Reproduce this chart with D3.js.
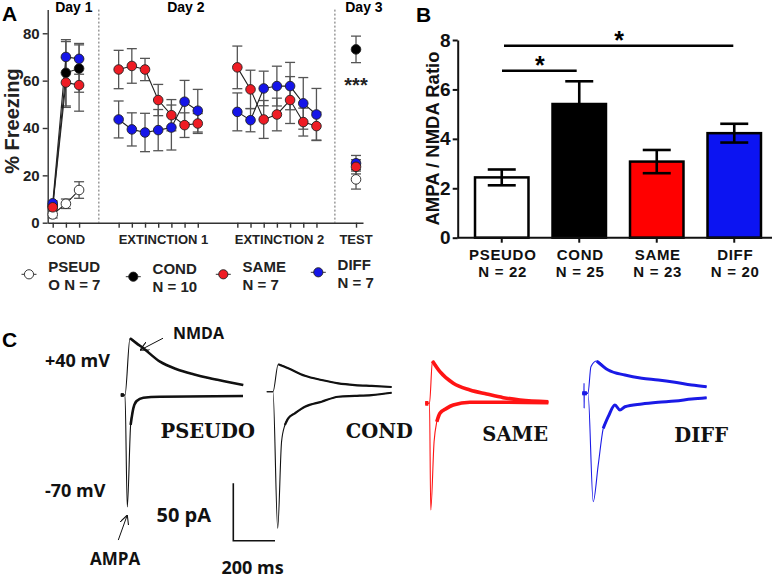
<!DOCTYPE html>
<html>
<head>
<meta charset="utf-8">
<script src="https://cdn.jsdelivr.net/npm/d3@7"></script>
<style>
  body { margin: 0; background: #fff; }
  svg { display: block; font-family: "Liberation Sans", Arial, sans-serif; }
</style>
</head>
<body>
<svg id="fig" width="775" height="577"></svg>
<script>
const svg = d3.select('#fig');

// ---------- Panel A data (trial index on a shared x, % freezing) ----------
const condIdx = [0, 1, 2];
const ext1Idx = [5, 6, 7, 8, 9, 10, 11];
const ext2Idx = [14, 15, 16, 17, 18, 19, 20];
const testIdx = [23];

const pseudoCond = [3.5, 8, 13.8];
const pseudoCondErr = [1.5, 2, 3.5];
const pseudoTest = [18.3];
const pseudoTestErr = [4.1];

const condCond = [7, 63.3, 65.1];
const condCondErr = [1, 14, 10];
const condTest = [73.2];
const condTestErr = [5.6];

const sameCond = [6.5, 59.2, 58.1];
const sameCondErr = [1, 10.5, 11];
const sameExt1 = [64.7, 66.2, 64.7, 51.8, 45.4, 41.2, 41.9];
const sameExt1Err = [8.1, 7.3, 4.7, 6.6, 6.6, 5.2, 4.2];
const sameExt2 = [65.6, 56.3, 43.6, 45.7, 51.8, 42.5, 40.8];
const sameExt2Err = [9, 8.1, 8, 6.9, 9.9, 5.9, 5.9];
const sameTest = [23.6];
const sameTestErr = [3];

const diffCond = [8.2, 70, 69.2];
const diffCondErr = [1, 6.5, 6.5];
const diffExt1 = [43.6, 39.4, 38.1, 39.1, 40.2, 51.1, 47.3];
const diffExt1Err = [7.8, 7, 8.1, 8.7, 9.5, 9, 9];
const diffExt2 = [46.8, 43.3, 56.7, 57.7, 57.7, 50.4, 45.7];
const diffExt2Err = [8, 4.9, 7.3, 8.4, 10, 10.9, 11];
const diffTest = [25.1];
const diffTestErr = [3.3];

const phaseLabels = ['COND', 'EXTINCTION 1', 'EXTINCTION 2', 'TEST'];
const phaseLabelAt = [1, 8.4, 17.2, 23];
const dayLabels = ['Day 1', 'Day 2', 'Day 3'];
const dayLabelAt = [1.6, 10.1, 23.6];
const daySeparators = [3.5, 21.4];
const legendNames = [['PSEUD', 'O N = 7'], ['COND', 'N = 10'], ['SAME', 'N = 7'], ['DIFF', 'N = 7']];

// ---------- Panel B data ----------
const groupsB = ['PSEUDO', 'COND', 'SAME', 'DIFF'];
const nB = ['N = 22', 'N = 25', 'N = 23', 'N = 20'];
const ratioB = [2.44, 5.41, 3.08, 4.23];
const semB = [0.32, 0.92, 0.47, 0.38];

// ---------- Panel C data: traces [ms, pA] ----------
const pseudoUp = [[-20, 0], [0, 0], [24, 49.4], [56, 45], [88, 40.7], [168, 29], [248, 22.4], [328, 18], [408, 14.5], [488, 11.6], [567, 8.7]];
const pseudoDown = [[-20, 0], [0, 0], [11, -97.6], [27, -26], [40, -11.6], [56, -5.2], [88, -2.4], [168, -1.5], [566, -0.9]];
const condUp = [[-30, 0], [0, 0], [25, 23.9], [73, 20.4], [153, 13.9], [233, 10.2], [313, 7.3], [393, 5.8], [473, 5.0], [569, 4.1]];
const condDown = [[-30, 0], [0, 0], [22.5, -119], [41, -43.6], [57, -29], [73, -23.2], [105, -18.8], [153, -13.1], [233, -8.7], [313, -4.4], [393, -3.7], [473, -2.9], [569, -0.9]];
const sameUp = [[-20, 0], [0, 0], [14, 36.8], [50, 27.5], [114, 17.4], [194, 11.6], [274, 8.1], [354, 4.9], [434, 2.9], [570, 1.4]];
const sameDown = [[-20, 0], [0, 0], [6, -93], [22, -33.4], [35, -16], [50, -8.7], [82, -4.4], [114, -1.5], [194, 0.9], [354, 0.9], [570, 0.5]];
const diffUp = [[-27, 0], [-19.5, 0], [-19, 8.7], [-18.5, -13], [-18, 0], [0, 0], [14, 23.2], [42, 28.1], [97, 20.3], [177, 15.9], [258, 13.1], [337, 11.6], [417, 9.6], [497, 7.2], [569, 5.7]];
const diffDown = [[-27, 0], [0, 0], [25, -94.4], [49, -62.5], [73, -30.5], [97, -20.4], [129, -10.2], [153, -14.5], [177, -11.7], [258, -9.3], [337, -7.8], [417, -6.7], [497, -5], [569, -3.8]];
const traceNames = ['PSEUDO', 'COND', 'SAME', 'DIFF'];

const RED = '#ee1c24';
const BLUE = '#1515e8';

// ============ PANEL A ============
const xA = d3.scaleLinear().domain([-0.38, 23.53]).range([47.7, 363]);
const yA = d3.scaleLinear().domain([0, 90]).range([222.7, 9.6]);
const gA = svg.append('g');

gA.append('text').attr('x', 2).attr('y', 21).attr('font-size', 21).attr('font-weight', 'bold').text('A');

// day separators
gA.selectAll('line.sep').data(daySeparators).enter().append('line')
  .attr('x1', (d) => xA(d)).attr('x2', (d) => xA(d))
  .attr('y1', yA(90)).attr('y2', yA(0))
  .attr('stroke', '#666').attr('stroke-width', 1).attr('stroke-dasharray', '2,2');

gA.selectAll('text.day').data(dayLabels).enter().append('text')
  .attr('x', (d, i) => xA(dayLabelAt[i])).attr('y', 12)
  .attr('text-anchor', 'middle').attr('font-size', 14).attr('font-weight', 'bold')
  .text((d) => d);

const axA = gA.append('g').attr('transform', `translate(${xA.range()[0]},0)`)
  .call(d3.axisLeft(yA).tickValues([0, 20, 40, 60, 80]).tickSize(5).tickSizeOuter(0).tickPadding(3));
axA.selectAll('text').attr('font-size', 15).attr('font-weight', 'bold').attr('fill', '#222').attr('font-family', null);
axA.selectAll('path,line').attr('stroke', '#333').attr('stroke-width', 1.4);

const axAx = gA.append('g').attr('transform', `translate(0,${yA(0)})`)
  .call(d3.axisBottom(xA).tickValues([...condIdx, ...ext1Idx, ...ext2Idx, ...testIdx])
    .tickFormat('').tickSize(5).tickSizeOuter(0));
axAx.selectAll('path,line').attr('stroke', '#333').attr('stroke-width', 1.4);

gA.selectAll('text.phase').data(phaseLabels).enter().append('text')
  .attr('x', (d, i) => xA(phaseLabelAt[i])).attr('y', 243.5)
  .attr('text-anchor', 'middle').attr('font-size', 13).attr('font-weight', 'bold').attr('fill', '#222')
  .text((d) => d);

gA.append('text').attr('transform', `translate(19,121) rotate(-90)`)
  .attr('text-anchor', 'middle').attr('font-size', 20).attr('font-weight', 'bold').attr('fill', '#222')
  .text('% Freezing');

const groupsA = [
  { fill: '#ffffff', segs: [[condIdx, pseudoCond, pseudoCondErr], [testIdx, pseudoTest, pseudoTestErr]] },
  { fill: '#000000', segs: [[condIdx, condCond, condCondErr], [testIdx, condTest, condTestErr]] },
  { fill: BLUE, segs: [[condIdx, diffCond, diffCondErr], [ext1Idx, diffExt1, diffExt1Err], [ext2Idx, diffExt2, diffExt2Err], [testIdx, diffTest, diffTestErr]] },
  { fill: RED, segs: [[condIdx, sameCond, sameCondErr], [ext1Idx, sameExt1, sameExt1Err], [ext2Idx, sameExt2, sameExt2Err], [testIdx, sameTest, sameTestErr]] },
];
const ptsOf = (seg) => seg[0].map((ix, k) => ({ i: ix, v: seg[1][k], e: seg[2][k] }));

// error bars
const gErr = gA.append('g').attr('stroke', '#555').attr('stroke-width', 1.3);
groupsA.forEach((g) => g.segs.forEach((seg) => {
  ptsOf(seg).forEach((p) => {
    gErr.append('line').attr('x1', xA(p.i)).attr('x2', xA(p.i)).attr('y1', yA(p.v - p.e)).attr('y2', yA(p.v + p.e));
    [p.v - p.e, p.v + p.e].forEach((v) => {
      gErr.append('line').attr('x1', xA(p.i) - 5).attr('x2', xA(p.i) + 5).attr('y1', yA(v)).attr('y2', yA(v));
    });
  });
}));

// connecting lines
const lineA = d3.line().x((p) => xA(p.i)).y((p) => yA(p.v));
groupsA.forEach((g) => g.segs.forEach((seg) => {
  if (seg[0].length < 2) return;
  gA.append('path').attr('d', lineA(ptsOf(seg))).attr('fill', 'none').attr('stroke', '#222').attr('stroke-width', 1.1);
}));

// markers
groupsA.forEach((g) => g.segs.forEach((seg) => {
  gA.selectAll(null).data(ptsOf(seg)).enter().append('circle')
    .attr('cx', (p) => xA(p.i)).attr('cy', (p) => yA(p.v)).attr('r', 4.8)
    .attr('fill', g.fill).attr('stroke', '#222').attr('stroke-width', 0.9);
}));

gA.append('text').attr('x', xA(23)).attr('y', 91.5).attr('text-anchor', 'middle')
  .attr('font-size', 20).attr('font-weight', 'bold').attr('fill', '#222').text('***');

// legend
const legendX = [29, 133.3, 223.3, 318.3];
const legendY = [274.3, 276.7, 274.3, 272.3];
const legendFill = ['#ffffff', '#000000', RED, BLUE];
legendNames.forEach((nm, k) => {
  const lg = gA.append('g');
  lg.append('line').attr('x1', legendX[k] - 7.5).attr('x2', legendX[k] + 7.5)
    .attr('y1', legendY[k]).attr('y2', legendY[k]).attr('stroke', '#333').attr('stroke-width', 1);
  lg.append('circle').attr('cx', legendX[k]).attr('cy', legendY[k]).attr('r', 4.6)
    .attr('fill', legendFill[k]).attr('stroke', '#222').attr('stroke-width', 0.9);
  lg.append('text').attr('x', legendX[k] + 19.3).attr('y', legendY[k] - 2.3)
    .attr('font-size', 15).attr('font-weight', 'bold').attr('fill', '#222').text(nm[0]);
  lg.append('text').attr('x', legendX[k] + 19.3).attr('y', legendY[k] + 15.5)
    .attr('font-size', 15).attr('font-weight', 'bold').attr('fill', '#222').text(nm[1]);
});

// ============ PANEL B ============
const xB = d3.scaleBand().domain(groupsB).range([463, 773]).paddingInner(0.31).paddingOuter(0.155);
const yB = d3.scaleLinear().domain([0, 8]).range([237.7, 40]);
const gB = svg.append('g');
const fillB = ['#ffffff', '#000000', '#ff0000', '#0c14f2'];

gB.append('text').attr('x', 416).attr('y', 22).attr('font-size', 21).attr('font-weight', 'bold').text('B');

gB.selectAll('rect.bar').data(groupsB).enter().append('rect')
  .attr('x', (d) => xB(d)).attr('width', xB.bandwidth())
  .attr('y', (d, i) => yB(ratioB[i])).attr('height', (d, i) => yB(0) - yB(ratioB[i]))
  .attr('fill', (d, i) => fillB[i]).attr('stroke', '#000').attr('stroke-width', 2.5);

const gEB = gB.append('g').attr('stroke', '#000').attr('stroke-width', 2.6);
groupsB.forEach((d, i) => {
  const cx = xB(d) + xB.bandwidth() / 2;
  gEB.append('line').attr('x1', cx).attr('x2', cx).attr('y1', yB(ratioB[i] - semB[i])).attr('y2', yB(ratioB[i] + semB[i]));
  [ratioB[i] - semB[i], ratioB[i] + semB[i]].forEach((v) => {
    gEB.append('line').attr('x1', cx - 14).attr('x2', cx + 14).attr('y1', yB(v)).attr('y2', yB(v));
  });
});

const axB = gB.append('g').attr('transform', `translate(457.7,0)`)
  .call(d3.axisLeft(yB).tickValues([0, 2, 4, 6, 8]).tickSize(5).tickSizeOuter(0).tickPadding(2));
axB.selectAll('text').attr('font-size', 19).attr('font-weight', 'bold').attr('fill', '#111').attr('font-family', null);
axB.selectAll('path,line').attr('stroke', '#111').attr('stroke-width', 2);

const axBx = gB.append('g').attr('transform', `translate(0,${yB(0)})`)
  .call(d3.axisBottom(xB).tickSize(5).tickSizeOuter(0).tickFormat(''));
axBx.select('path').attr('d', `M457.7,0H772`);
axBx.selectAll('path,line').attr('stroke', '#111').attr('stroke-width', 2);

gB.selectAll('text.grp').data(groupsB).enter().append('text')
  .attr('x', (d) => xB(d) + xB.bandwidth() / 2 + 1).attr('y', 259.5)
  .attr('text-anchor', 'middle').attr('font-size', 15).attr('letter-spacing', 0.7)
  .attr('font-weight', 'bold').attr('fill', '#111')
  .text((d) => d);
gB.selectAll('text.nn').data(nB).enter().append('text')
  .attr('x', (d, i) => xB(groupsB[i]) + xB.bandwidth() / 2 + 1).attr('y', 276.8)
  .attr('text-anchor', 'middle').attr('font-size', 15).attr('letter-spacing', 0.7)
  .attr('font-weight', 'bold').attr('fill', '#111')
  .text((d) => d);

gB.append('text').attr('transform', `translate(439,138.5) rotate(-90)`)
  .attr('text-anchor', 'middle').attr('font-size', 18.5).attr('font-weight', 'bold').attr('fill', '#111')
  .text('AMPA / NMDA Ratio');

// significance brackets
const sig = [
  { a: 'PSEUDO', b: 'DIFF', y: 45.7, x0: 504, x1: 733.3 },
  { a: 'PSEUDO', b: 'COND', y: 70.7, x0: 502, x1: 576.7 },
];
sig.forEach((s) => {
  gB.append('line').attr('x1', s.x0).attr('x2', s.x1).attr('y1', s.y).attr('y2', s.y)
    .attr('stroke', '#000').attr('stroke-width', 2.5);
  gB.append('text').attr('x', (s.x0 + s.x1) / 2 + 0.5).attr('y', s.y + 3.5)
    .attr('text-anchor', 'middle').attr('font-size', 25).attr('font-weight', 'bold').text('*');
});

// ============ PANEL C ============
const gC = svg.append('g');
gC.append('text').attr('x', 2).attr('y', 347).attr('font-size', 21).attr('font-weight', 'bold').text('C');

const tC = d3.scaleLinear().domain([0, 200]).range([0, 41.7]);
const iC = d3.scaleLinear().domain([0, 50]).range([0, -57.4]);
const lineC = d3.line().x((d) => tC(d[0])).y((d) => iC(d[1])).curve(d3.curveMonotoneX);

const traceSets = [
  { up: pseudoUp, down: pseudoDown, ox: 125, oy: 395, color: '#111', noise: 2.6, label: [255, 438.3] },
  { up: condUp, down: condDown, ox: 273, oy: 391.7, color: '#111', noise: 2.2, label: [413, 438.3] },
  { up: sameUp, down: sameDown, ox: 429.5, oy: 403.3, color: '#ff1414', noise: 3.6, label: [548, 440.7] },
  { up: diffUp, down: diffDown, ox: 588, oy: 393.3, color: '#1a1ae6', noise: 3.0, label: [728, 441.7] },
];

traceSets.forEach((ts, k) => {
  const g = gC.append('g').attr('transform', `translate(${ts.ox},${ts.oy})`);
  [ts.up, ts.down].forEach((tr, j) => {
    g.append('path').attr('d', lineC(tr)).attr('fill', 'none').attr('stroke', ts.color).attr('stroke-width', 1.1);
    // noisy (thick) parts: pre-stimulus baseline and the slow decay
    const ext = j === 0 ? d3.maxIndex(tr, (d) => d[1]) : d3.minIndex(tr, (d) => d[1]);
    const slow = tr.filter((d, n) => n > ext && (j === 0 || d[1] > -32));
    const base = tr.filter((d) => d[0] <= 0 && d[0] >= -25 + (k === 3 ? -2 : 0));
    g.append('path').attr('d', lineC(j === 0 ? tr.slice(ext) : slow)).attr('fill', 'none')
      .attr('stroke', ts.color).attr('stroke-width', ts.noise).attr('stroke-linejoin', 'round');
    g.append('path').attr('d', lineC(base.filter((d) => d[1] === 0 && d[0] < -15).concat([[-6, 0]])))
      .attr('fill', 'none').attr('stroke', ts.color).attr('stroke-width', ts.noise + 0.8);
  });
  gC.append('text').attr('x', ts.label[0]).attr('y', ts.label[1]).attr('text-anchor', 'end')
    .attr('font-family', '"DejaVu Serif", serif').attr('font-weight', 'bold').attr('font-size', 19.5)
    .attr('fill', '#111').text(traceNames[k]);
});

const sans = '"Open Sans", sans-serif';
gC.append('text').attr('x', 45).attr('y', 367).attr('font-family', sans).attr('font-weight', 'bold').attr('font-size', 18).attr('fill', '#111').text('+40 mV');
gC.append('text').attr('x', 45).attr('y', 497).attr('font-family', sans).attr('font-weight', 'bold').attr('font-size', 18).attr('fill', '#111').text('-70 mV');
gC.append('text').attr('x', 173).attr('y', 338.5).attr('font-family', sans).attr('font-weight', 'bold').attr('font-size', 16).attr('fill', '#111').text('NMDA');
gC.append('text').attr('x', 90).attr('y', 565).attr('font-family', sans).attr('font-weight', 'bold').attr('font-size', 17).attr('fill', '#111').text('AMPA');

// annotation arrows, anchored on the PSEUDO traces
svg.append('defs').append('marker').attr('id', 'arr').attr('viewBox', '0 0 10 10')
  .attr('refX', 10).attr('refY', 5).attr('markerWidth', 9).attr('markerHeight', 9)
  .attr('markerUnits', 'userSpaceOnUse').attr('orient', 'auto')
  .append('path').attr('d', 'M0,0 L10,5 L0,10').attr('fill', 'none').attr('stroke', '#111').attr('stroke-width', 1.2);
const ps = traceSets[0];
const nmdaTip = [ps.ox + tC(72), ps.oy + iC(39)];
const trough = pseudoDown[d3.minIndex(pseudoDown, (d) => d[1])];
const ampaTip = [ps.ox + tC(trough[0]), ps.oy + iC(trough[1]) + 8];
gC.append('line').attr('x1', nmdaTip[0] + 23).attr('y1', nmdaTip[1] - 12).attr('x2', nmdaTip[0]).attr('y2', nmdaTip[1])
  .attr('stroke', '#111').attr('stroke-width', 1).attr('marker-end', 'url(#arr)');
gC.append('line').attr('x1', ampaTip[0] - 9).attr('y1', ampaTip[1] + 25).attr('x2', ampaTip[0]).attr('y2', ampaTip[1])
  .attr('stroke', '#111').attr('stroke-width', 1).attr('marker-end', 'url(#arr)');

// scale bar: 50 pA / 200 ms
const sb = gC.append('g').attr('transform', 'translate(233.3,540.7)');
sb.append('path').attr('d', `M0,${iC(50)}V0H${tC(200)}`).attr('fill', 'none').attr('stroke', '#111').attr('stroke-width', 1.6);
gC.append('text').attr('x', 156.5).attr('y', 522).attr('font-family', sans).attr('font-weight', 'bold').attr('font-size', 20).attr('fill', '#111').text('50 pA');
gC.append('text').attr('x', 221.5).attr('y', 573.5).attr('font-family', sans).attr('font-weight', 'bold').attr('font-size', 18).attr('fill', '#111').text('200 ms');
</script>
</body>
</html>
